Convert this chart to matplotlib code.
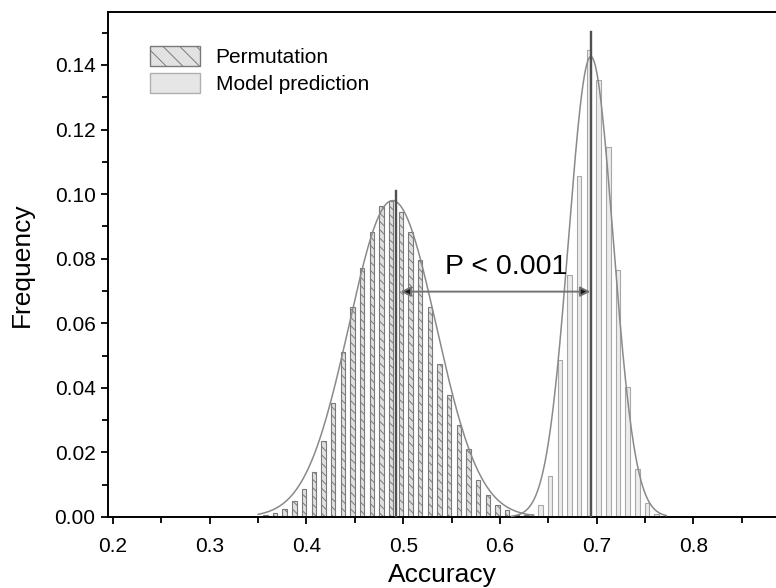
import numpy as np
import matplotlib.pyplot as plt
from matplotlib.patches import Patch
from matplotlib.ticker import MultipleLocator, FormatStrFormatter

plt.rcParams['font.family'] = ['Liberation Sans', 'DejaVu Sans']
plt.rcParams['hatch.linewidth'] = 0.7

# permutation histogram (accuracy bin, frequency)
perm_x = [0.3575, 0.3675, 0.3775, 0.3875, 0.3975, 0.4075, 0.4175, 0.4275,
          0.4375, 0.4475, 0.4575, 0.4675, 0.4775, 0.4875, 0.4975, 0.5075,
          0.5175, 0.5275, 0.5375, 0.5475, 0.5575, 0.5675, 0.5775, 0.5875,
          0.5975, 0.6075, 0.6175, 0.6275]
perm_freq = [0.0006, 0.0012, 0.0025, 0.0050, 0.0088, 0.0139, 0.0234, 0.0353,
             0.0510, 0.0651, 0.0770, 0.0884, 0.0963, 0.0980, 0.0945, 0.0884,
             0.0796, 0.0650, 0.0475, 0.0377, 0.0284, 0.0212, 0.0114, 0.0067,
             0.0036, 0.0021, 0.0007, 0.0005]

# model prediction histogram
model_x = [0.632, 0.642, 0.652, 0.662, 0.672, 0.682, 0.692, 0.702,
           0.712, 0.722, 0.732, 0.742, 0.752, 0.762]
model_freq = [0.0010, 0.0036, 0.0128, 0.0485, 0.0749, 0.1056, 0.1446, 0.1353,
              0.1147, 0.0765, 0.0403, 0.0150, 0.0044, 0.0010]

# fitted normal curves: centre, sigma, peak height, drawn range
perm_fit = (0.489, 0.045, 0.098, 0.35, 0.635)
model_fit = (0.694, 0.023, 0.1426, 0.612, 0.772)

# mean markers (x, top)
perm_mean = (0.4922, 0.1011)
model_mean = (0.6943, 0.1503)
arrow_y = 0.0698

fig = plt.figure(figsize=(7.76, 5.88), dpi=100)
ax = fig.add_axes([108 / 776, 1 - 517 / 588, 1 - 108 / 776 + 0.002, (517 - 12) / 588])

ax.bar(perm_x, perm_freq, width=0.0046, color='#e0e0e0', edgecolor='#7a7a7a',
       linewidth=0.8, hatch='\\\\\\\\', zorder=2)
ax.bar(model_x, model_freq, width=0.0046, color='#ececec', edgecolor='#a8a8a8',
       linewidth=0.8, zorder=2)

for mu, sd, h, x0, x1 in (perm_fit, model_fit):
    xs = np.linspace(x0, x1, 300)
    ax.plot(xs, h * np.exp(-(xs - mu) ** 2 / (2 * sd ** 2)), color='#8a8a8a', lw=1.1, zorder=3)

for mx, top in (perm_mean, model_mean):
    ax.plot([mx, mx], [0, top], color='#505050', lw=1.7, zorder=4)

ax.annotate('', xy=(0.4972, arrow_y), xytext=(0.6935, arrow_y),
            arrowprops=dict(arrowstyle='<|-|>', fc='#1a1a1a', ec='#737373', lw=1.4,
                            mutation_scale=15, shrinkA=0, shrinkB=0), zorder=5)
ax.text(0.606, 0.0774, 'P < 0.001', fontsize=20.5, ha='center', va='center')

ax.set_xlim(0.1948, 0.887)
ax.set_ylim(0, 0.1564)
ax.xaxis.set_major_locator(MultipleLocator(0.1))
ax.xaxis.set_minor_locator(MultipleLocator(0.05))
ax.yaxis.set_major_locator(MultipleLocator(0.02))
ax.yaxis.set_minor_locator(MultipleLocator(0.01))
ax.xaxis.set_major_formatter(FormatStrFormatter('%.1f'))
ax.yaxis.set_major_formatter(FormatStrFormatter('%.2f'))
ax.tick_params(which='both', direction='out', width=1.3, labelsize=15)
ax.tick_params(which='major', length=5)
ax.tick_params(which='minor', length=4)
ax.tick_params(axis='x', which='major', pad=9.5)
ax.tick_params(axis='y', which='major', pad=4)
ax.spines['right'].set_visible(False)
for s in ('left', 'bottom', 'top'):
    ax.spines[s].set_linewidth(1.4)

ax.set_xlabel('Accuracy', fontsize=19, labelpad=5)
ax.set_ylabel('Frequency', fontsize=19, labelpad=15)

handles = [Patch(facecolor='#e2e2e2', edgecolor='#7a7a7a', hatch='\\\\'),
           Patch(facecolor='#e6e6e6', edgecolor='#b0b0b0')]
ax.legend(handles, ['Permutation', 'Model prediction'], loc='upper left',
          bbox_to_anchor=(0.034, 0.97), frameon=False, fontsize=15,
          handlelength=2.4, handleheight=1.1, handletextpad=0.77, labelspacing=0.3)

fig.savefig('out.png', dpi=100)
